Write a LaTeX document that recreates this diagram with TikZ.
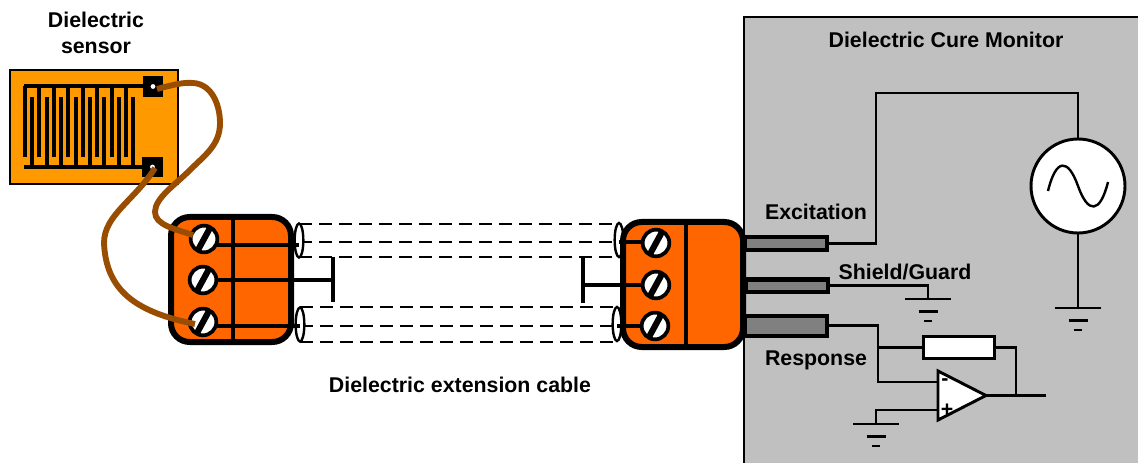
\documentclass[tikz,border=0pt]{standalone}
\usepackage{fontspec}
\usetikzlibrary{shapes.geometric}
\setmainfont{Liberation Sans}
\definecolor{sensorcol}{HTML}{FF9900}
\definecolor{conncol}{HTML}{FF6600}
\definecolor{panelcol}{HTML}{C0C0C0}
\definecolor{plugcol}{HTML}{808080}
\definecolor{leadcol}{HTML}{994D00}
\tikzset{
  label text/.style={font=\fontsize{16}{19.5}\selectfont\bfseries,inner sep=0pt,align=center},
  conn/.style={draw,fill=conncol,line width=4.5pt,rounded corners=14pt,minimum width=90pt,minimum height=93.75pt},
  screw/.style={circle,draw,fill=white,line width=2.8pt,minimum size=20pt,inner sep=0pt,
    path picture={\draw[line width=4.6pt] ([shift={(-6pt,-11pt)}]path picture bounding box.center) -- ([shift={(6pt,11pt)}]path picture bounding box.center);}},
  plug/.style={draw,fill=plugcol,line width=3pt,inner sep=0pt},
  pad/.style={fill=black,inner sep=0pt,minimum size=15.5pt},
  lead/.style={leadcol,line width=4.4pt,line cap=butt},
  sig/.style={line width=2pt},
  inwire/.style={line width=2.8pt},
  shieldline/.style={line width=1.6pt},
  dashline/.style={line width=1.8pt,dash pattern=on 10pt off 5pt},
  cableend/.style={ellipse,draw,fill=white,line width=1.8pt,minimum width=6.5pt,minimum height=25.5pt,inner sep=0pt},
  earth/.pic={\draw[line width=2pt] (-23,0) -- (23,0) (-9.5,12.5) -- (9.5,12.5) (-4,22) -- (4,22);}
}
\begin{document}
\begin{tikzpicture}[x=0.75pt,y=-0.75pt]
\useasboundingbox (0,0) rectangle (1138,463);
\fill[panelcol] (744,17) rectangle (1138,463);
\draw[line width=1.6pt] (1138,17) -- (744,17) -- (744,463);
\node [label text] (title) at (946,40) {Dielectric Cure Monitor};
\node [label text] (senslabel) at (96,33) {Dielectric\\sensor};
\node [label text] (cablelabel) at (460,385) {Dielectric extension cable};
\node [label text] (exclabel) at (816,212) {Excitation};
\node [label text] (shlabel) at (905,272) {Shield/Guard};
\node [label text] (resplabel) at (816,360) {Response};

\node [draw,fill=sensorcol,line width=1.5pt,minimum width=126pt,minimum height=85.5pt] (sensor) at (94,127) {};
\draw[line width=3pt] (24,86.5) -- (146,86.5);
\draw[line width=3pt] (24,167) -- (146,167);
\foreach \i in {0,2,...,14}
  \draw[line width=3pt] (25+7.22*\i,86) -- (25+7.22*\i,157);
\foreach \i in {1,3,...,15}
  \draw[line width=3pt] (25+7.22*\i,97) -- (25+7.22*\i,167);
\node [pad,minimum height=16pt] (padtop) at (153,86.5) {};
\node [pad] (padbot) at (152.5,167) {};
\fill[white] (padtop.center) circle (1.8pt);
\fill[white] (padbot.center) circle (1.8pt);

\node [plug,minimum width=61pt,minimum height=9.5pt] (plugexc) at (786,243.5) {};
\node [plug,minimum width=62pt,minimum height=9pt] (plugsh) at (787,285.5) {};
\node [plug,minimum width=61pt,minimum height=15pt] (plugresp) at (786,325.5) {};

\coordinate (endla) at (299,240.5);
\coordinate (endlb) at (300,324.5);
\coordinate (endra) at (619,240);
\coordinate (endrb) at (617,324);
\draw[dashline] (299,224) -- (619,224);
\draw[dashline] (299,242) -- (619,242);
\draw[dashline] (299,257) -- (619,257);
\draw[dashline] (300,307) -- (617,307);
\draw[dashline] (300,326) -- (617,326);
\draw[dashline] (300,342) -- (617,342);
\node [cableend] (capla) at (endla) {};
\node [cableend] (caplb) at (endlb) {};
\node [cableend] (capra) at (endra) {};
\node [cableend] (caprb) at (endrb) {};

\node [conn] (connl) at (231,279.5) {};
\node [conn] (connr) at (683,284.5) {};
\draw[line width=2.6pt] (connl.north) ++(2,0) -- ++(0,125);
\draw[line width=3pt] (connr.north) ++(3,0) -- ++(0,125);

\coordinate (teel) at (333,280);
\coordinate (teer) at (583,285);
\draw[inwire] (204,245) -- (299,245);
\draw[inwire] (203,280) -- (teel);
\draw[inwire] (203,326) -- (300,326);
\draw[line width=3pt] (333,257) -- (333,302);
\draw[line width=3pt] (583,257) -- (583,303);
\draw[inwire] (teer) -- (656,285);
\draw[inwire] (619,242) -- (656,242);
\draw[inwire] (617,326) -- (655,326);
\node [screw] (scla) at (204,239) {};
\node [screw] (sclb) at (203,280) {};
\node [screw] (sclc) at (203,322) {};
\node [screw] (scra) at (656,243) {};
\node [screw] (scrb) at (656,285) {};
\node [screw] (scrc) at (655,326) {};

\coordinate (leadatop) at (157,89);
\coordinate (leadbtop) at (155,168);
\coordinate (leadaend) at (193,235);
\coordinate (leadbend) at (195,324);
\draw[lead] (leadatop) .. controls (172,85) and (184,82) .. (193,83) .. controls (212,84) and (220,105) .. (220,123) .. controls (220,145) and (205,155) .. (190,170) .. controls (175,185) and (155,198) .. (155,212) .. controls (155,225) and (175,229) .. (leadaend);
\draw[lead] (leadbtop) .. controls (135,200) and (104,215) .. (104,243) .. controls (106,290) and (135,312) .. (leadbend);

\node [circle,draw,fill=white,line width=2.2pt,minimum size=70.5pt,inner sep=0pt] (source) at (1078,186) {};
\draw[line width=1.8pt] (1048,191) .. controls (1056,158) and (1068,158) .. (1078,186) .. controls (1088,214) and (1100,214) .. (1108,182);
\coordinate (gndsrc) at (1078,308);
\draw[sig] (plugexc.east) -| (876,93) -| (source.north);
\draw[sig] (source.south) -- (gndsrc);
\pic at (gndsrc) {earth};

\coordinate (gndsh) at (928,299);
\draw[shieldline] (plugsh.east) -| (gndsh);
\pic at (gndsh) {earth};

\node [draw,fill=white,line width=2.2pt,minimum width=53pt,minimum height=16.5pt,inner sep=0pt] (resistor) at (959,347.5) {};
\coordinate (ampa) at (938,371);
\coordinate (ampb) at (938,420);
\coordinate (ampout) at (986,395.5);
\coordinate (ampminus) at (938,382);
\coordinate (ampplus) at (938,410);
\coordinate (gndamp) at (876,424);
\coordinate (outend) at (1046,395.5);
\draw[sig] (plugresp.east) -| (878,382) -- (ampminus);
\draw[sig] (878,347.5) -- (resistor.west);
\draw[sig] (resistor.east) -| (1016,395.5);
\draw[sig] (ampout) -- (outend);
\draw[sig] (ampplus) -| (gndamp);
\pic at (gndamp) {earth};
\draw[fill=white,line width=2.2pt,line join=miter] (ampa) -- (ampout) -- (ampb) -- cycle;
\node [label text] (minus) at (945,382) {-};
\node [label text] (plus) at (947,410) {+};
\end{tikzpicture}
\end{document}
